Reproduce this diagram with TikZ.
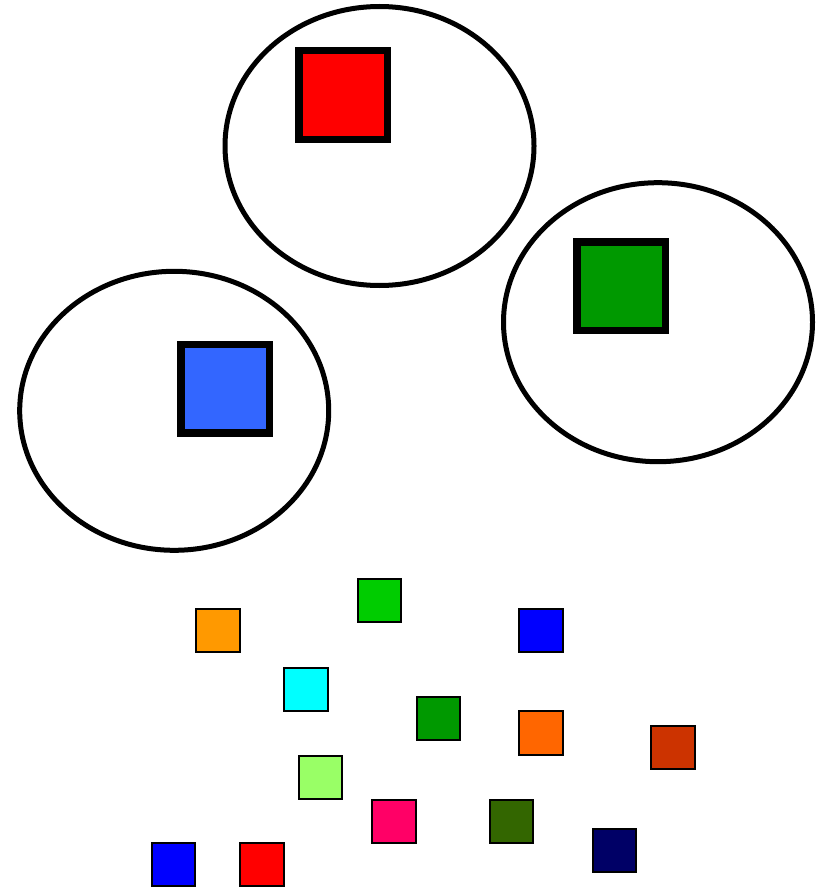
\documentclass[tikz,border=0pt]{standalone}
\usetikzlibrary{shapes.geometric}
\definecolor{cOrange}{HTML}{FF9900}
\definecolor{cLime}{HTML}{00CC00}
\definecolor{cCyan}{HTML}{00FFFF}
\definecolor{cDGreen}{HTML}{009900}
\definecolor{cLGreen}{HTML}{99FF66}
\definecolor{cPink}{HTML}{FF0066}
\definecolor{cBlue}{HTML}{0000FF}
\definecolor{cRed}{HTML}{FF0000}
\definecolor{cOrange2}{HTML}{FF6600}
\definecolor{cRust}{HTML}{CC3300}
\definecolor{cOlive}{HTML}{336600}
\definecolor{cNavy}{HTML}{000066}
\definecolor{cSky}{HTML}{3366FF}
\tikzset{
  setbox/.style={ellipse, draw=black, line width=5pt, minimum width=309pt, minimum height=279pt, inner sep=0pt},
  bigsq/.style={rectangle, draw=black, line width=7.5pt, minimum width=88.5pt, minimum height=88.5pt, inner sep=0pt, fill=#1},
  smallsq/.style={rectangle, draw=black, line width=2pt, minimum width=43.3pt, minimum height=43.3pt, inner sep=0pt, fill=#1}
}
\begin{document}
\begin{tikzpicture}[x=1pt,y=-1pt]
\useasboundingbox (0,0) rectangle (818,888);
% ellipses
\node[setbox] (e1) at (379.5,146) {};
\node[setbox] (e2) at (658,322.2) {};
\node[setbox] (e3) at (174.2,410.8) {};
% big squares
\node[bigsq=cRed] (b1) at (343,95) {};
\node[bigsq=cDGreen] (b2) at (621.3,286.3) {};
\node[bigsq=cSky] (b3) at (225.2,388.7) {};
% small squares
\node[smallsq=cOrange] (s1) at (218,630.3) {};
\node[smallsq=cLime] (s2) at (379.5,600.8) {};
\node[smallsq=cBlue] (s3) at (541,630.3) {};
\node[smallsq=cCyan] (s4) at (306,689.3) {};
\node[smallsq=cDGreen] (s5) at (438.5,718.5) {};
\node[smallsq=cOrange2] (s6) at (541,733) {};
\node[smallsq=cRust] (s7) at (673,747.8) {};
\node[smallsq=cLGreen] (s8) at (320.8,777.2) {};
\node[smallsq=cPink] (s9) at (394,821.3) {};
\node[smallsq=cOlive] (s10) at (511.3,821.3) {};
\node[smallsq=cNavy] (s11) at (614.3,850.5) {};
\node[smallsq=cBlue] (s12) at (173.8,864.8) {};
\node[smallsq=cRed] (s13) at (262,864.8) {};
\end{tikzpicture}
\end{document}
